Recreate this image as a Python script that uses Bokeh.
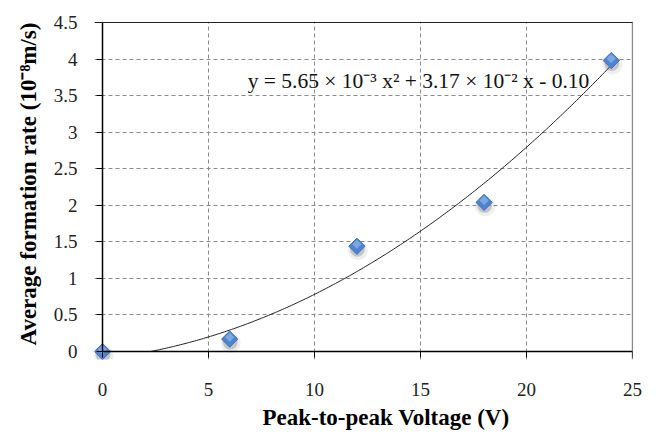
import numpy as np
from bokeh.plotting import figure
from bokeh.models import (Range1d, Title, Label, FixedTicker, ColumnDataSource, Span,
                          LinearAxis)
from bokeh.transform import dodge
from bokeh.embed import file_html
from bokeh.resources import INLINE

# ---- data ----
voltage = [0, 6, 12, 18, 24]
rate = [0.0, 0.17, 1.44, 2.04, 3.98]
coef_a, coef_b, coef_c = 5.65e-3, 3.17e-2, -0.10
x_ticks = [0, 5, 10, 15, 20, 25]
y_ticks = [0, 0.5, 1, 1.5, 2, 2.5, 3, 3.5, 4, 4.5]
equation = "y = 5.65 × 10⁻³ x² + 3.17 × 10⁻²  x - 0.10"
x_title = "Peak-to-peak Voltage (V)"
y_title = "Average formation rate (10⁻⁸m/s)"

# trendline from the stated fit
root = (-coef_b + np.sqrt(coef_b**2 - 4 * coef_a * coef_c)) / (2 * coef_a)
xs = np.linspace(root, max(voltage), 200)
ys = coef_a * xs**2 + coef_b * xs + coef_c

FONT = "Liberation Serif"
X0, X1, Y0, Y1 = 0, 25, 0, 4.5
W, H = 659, 434
# margin inside the frame (px) so that the corner marker is not clipped
PAD = 8
TOP = 1
BL, BR, BT, BB = 102 - PAD, 27, 22 - TOP, 81 - PAD
fw = W - BL - BR - PAD
fh = H - BT - BB - PAD - TOP
px_x = (X1 - X0) / fw
px_y = (Y1 - Y0) / fh
dx = PAD * px_x
dy = PAD * px_y
ey = TOP * px_y

p = figure(width=W, height=H, output_backend="svg", toolbar_location=None,
           x_range=Range1d(X0 - dx, X1), y_range=Range1d(Y0 - dy, Y1 + ey),
           min_border_left=BL, min_border_right=BR, min_border_top=BT,
           min_border_bottom=BB)
p.background_fill_color = "white"
p.border_fill_color = "white"
p.outline_line_color = None

# axis lines and ticks, placed on the data origin
p.xaxis.fixed_location = Y0
p.yaxis.fixed_location = X0
p.xaxis.bounds = (X0, X1)
p.yaxis.bounds = (Y0, Y1)
for ax, ticks in ((p.xaxis, x_ticks), (p.yaxis, y_ticks)):
    ax.ticker = FixedTicker(ticks=ticks)
    ax.axis_line_color = "black"
    ax.axis_line_width = 1.5
    ax.major_tick_line_color = "black"
    ax.major_tick_out = 6
    ax.major_tick_in = 0
    ax.minor_tick_line_color = None
    ax.major_label_text_alpha = 0
    ax.major_label_text_font_size = "1px"

# tick labels on normal side axes
lab_x = LinearAxis(ticker=FixedTicker(ticks=x_ticks))
lab_y = LinearAxis(ticker=FixedTicker(ticks=y_ticks))
for ax in (lab_x, lab_y):
    ax.axis_line_color = None
    ax.major_tick_line_color = None
    ax.minor_tick_line_color = None
    ax.major_tick_out = 0
    ax.major_tick_in = 0
    ax.major_label_text_font = FONT
    ax.major_label_text_font_size = "19px"
    ax.major_label_text_color = "#222222"
lab_x.major_label_standoff = 23
lab_y.major_label_standoff = 17
p.add_layout(lab_x, "below")
p.add_layout(lab_y, "left")

for g in (p.xgrid, p.ygrid):
    g.grid_line_color = "#8a8a8a"
    g.grid_line_dash = "4 3"
    g.grid_line_width = 1

# top and right border of the plot box
p.add_layout(Span(location=Y1, dimension="width", line_color="#222222", line_width=1.2))
p.add_layout(Span(location=X1, dimension="height", line_color="#111111", line_width=1.2))

src = ColumnDataSource(dict(x=voltage, y=rate))

# trendline
p.line(xs, ys, line_color="#222222", line_width=1)

# soft marker shadows (below the diamonds)
p.scatter(x=dodge("x", 1.0 * px_x), y=dodge("y", -4 * px_y), source=src, marker="circle",
          size=20, fill_color="#666666", fill_alpha=0.10, line_color=None)
p.scatter(x=dodge("x", 0.5 * px_x), y=dodge("y", -3 * px_y), source=src, marker="circle",
          size=15, fill_color="#333333", fill_alpha=0.22, line_color=None)
# markers
p.scatter(x="x", y="y", source=src, marker="square", angle=np.pi / 4, size=11.5,
          fill_color="#4F84CC", line_color="#3F72B8", line_width=1)
# highlight giving the glossy look
p.scatter(x="x", y=dodge("y", 2 * px_y), source=src, marker="square", angle=np.pi / 4,
          size=6.5, fill_color="#8FB8EC", fill_alpha=0.7, line_color=None)

p.add_layout(Label(x=6.85, y=3.70, text=equation, text_font=FONT,
                   text_font_size="21.5px", text_color="#111111",
                   text_baseline="alphabetic"))

p.add_layout(Title(text=x_title, align="left", offset=160 + PAD, text_font=FONT,
                   text_font_size="23px", text_font_style="bold",
                   text_color="black", standoff=9), "below")
p.add_layout(Title(text=y_title, align="left", offset=6 + PAD, text_font=FONT,
                   text_font_size="23px", text_font_style="bold",
                   text_color="black", standoff=20), "left")

open("out.html", "w").write(file_html(p, INLINE))
